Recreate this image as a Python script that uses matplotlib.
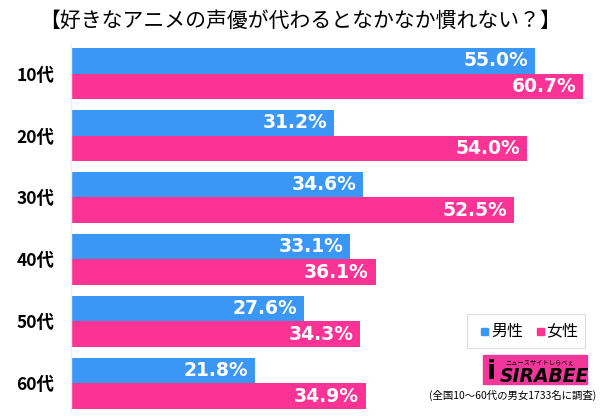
import matplotlib
matplotlib.use('Agg')
import matplotlib.pyplot as plt
from matplotlib.patches import Rectangle

plt.rcParams['font.family'] = ['Noto Sans CJK JP', 'DejaVu Sans']

# --- data
title = '【好きなアニメの声優が代わるとなかなか慣れない？】'
ages = ['10代', '20代', '30代', '40代', '50代', '60代']
male = [55.0, 31.2, 34.6, 33.1, 27.6, 21.8]
female = [60.7, 54.0, 52.5, 36.1, 34.3, 34.9]
series_names = ['男性', '女性']
note = '(全国10～60代の男女1733名に調査)'

blue = '#3A97F6'
pink = '#FA3394'

fig = plt.figure(figsize=(6, 4.17), dpi=100)
ax = fig.add_axes((71/600, 5/417, 523/600, 368/417))

h = 0.411
for i, (m, f) in enumerate(zip(male, female)):
    ax.barh(i - h/2, m, height=h, color=blue, linewidth=0)
    ax.barh(i + h/2, f, height=h, color=pink, linewidth=0)
    ax.text(m - 0.8, i - h/2, f'{m:.1f}%', ha='right', va='center',
            color='white', fontsize=13.5, fontweight='bold', family='DejaVu Sans')
    ax.text(f - 0.8, i + h/2, f'{f:.1f}%', ha='right', va='center',
            color='white', fontsize=13.5, fontweight='bold', family='DejaVu Sans')

ax.set_xlim(0, 523/8.44)
ax.set_ylim(5.46, -0.476)
ax.set_yticks(range(len(ages)))
ax.set_yticklabels(ages, fontsize=12.5, fontweight='bold')
ax.tick_params(axis='y', length=0, pad=12)
ax.set_xticks([])
for s in ['top', 'right', 'bottom']:
    ax.spines[s].set_visible(False)
ax.spines['left'].set_color('#eeeeee')
ax.spines['left'].set_linewidth(1)

fig.text(0.5, 1 - 21/417, title, ha='center', va='center', fontsize=15)

# --- legend box
fig.patches.append(Rectangle((467/600, 1 - 348/417), 118/600, 34/417,
                             transform=fig.transFigure, facecolor='white',
                             edgecolor='#dddddd', linewidth=0.8))
fig.patches.append(Rectangle((481/600, 1 - 335/417), 7/600, 7/417,
                             transform=fig.transFigure, color=blue))
fig.text(491/600, 1 - 331/417, series_names[0], fontsize=11.5, va='center')
fig.patches.append(Rectangle((537/600, 1 - 335/417), 7/600, 7/417,
                             transform=fig.transFigure, color=pink))
fig.text(546/600, 1 - 331/417, series_names[1], fontsize=11.5, va='center')

# --- logo
fig.patches.append(Rectangle((483/600, 1 - 384/417), 104/600, 29/417,
                             transform=fig.transFigure, color='#F2379B'))
fig.text(500/600, 1 - 376/417, 'SIRABEE', fontsize=13.5, fontweight='bold',
         style='italic', va='center', color='black', family='DejaVu Sans')
fig.text(540/600, 1 - 362/417, 'ニュースサイトしらべぇ', fontsize=4.5,
         va='center', ha='center', color='black')
fig.text(487/600, 1 - 372/417, 'i', fontsize=19, fontweight='bold',
         va='center', color='black', family='DejaVu Sans')

fig.text(1 - 4/600, 1 - 395/417, note, fontsize=7.5, ha='right', va='center')

fig.savefig('out.png', dpi=100)
